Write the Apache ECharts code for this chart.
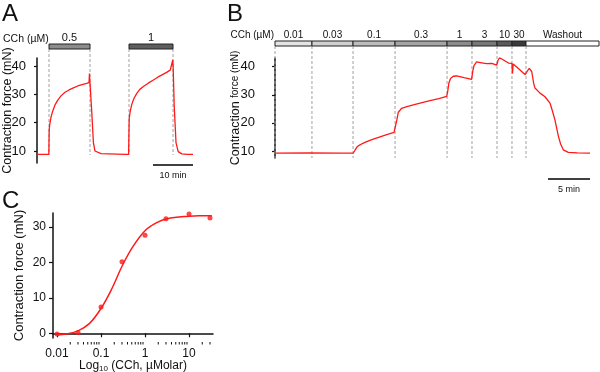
<!DOCTYPE html>
<html><head><meta charset="utf-8">
<script src="https://cdn.jsdelivr.net/npm/echarts@6/dist/echarts.min.js"></script>
<style>html,body{margin:0;padding:0;background:#fff}#c{width:600px;height:372px}</style>
</head><body><div id="c"></div>
<script>
// ---------- Panel A data (time in min, force in mN) ----------
const aTime  = [0, 2.95, 3.0, 3.05, 3.2, 3.5, 3.9, 4.5, 5.2, 6.0, 7.0, 8.0, 9.1, 10.2, 11.3, 12.4, 13.0, 13.12, 13.2, 13.3, 13.7, 14.1, 14.5, 15.0, 16.0, 18.0, 20.0, 22.0, 22.9, 22.97, 23.05, 23.3, 23.7, 24.2, 24.9, 25.7, 26.6, 27.8, 29.1, 30.3, 31.6, 32.5, 33.3, 33.8, 33.95, 34.05, 34.3, 34.75, 35.3, 36.2, 37.5, 39];
const aForce = [8.8, 8.8, 13, 17.5, 19.5, 22, 24, 26.3, 28, 29.5, 30.8, 31.6, 32.3, 33, 33.5, 33.9, 34.2, 37.4, 35, 33, 23.5, 13, 10, 9.4, 9.1, 9.0, 8.9, 8.8, 8.8, 15, 21.5, 24, 26.5, 28.5, 30.3, 31.8, 32.8, 34, 35.1, 36.2, 37.2, 37.9, 38.6, 39.2, 42.2, 39, 26, 13, 9.8, 9.0, 8.8, 8.8];
const aDoseLabel = ['0.5', '1'];
const aDoseStart = [3, 23];
const aDoseEnd   = [13.25, 34];
const aYTicks = [10, 20, 30, 40];
const aScaleStart = 29, aScaleLen = 10, aScaleLabel = '10 min';

// ---------- Panel B data ----------
const bTime  = [0, 4, 8, 9.3, 9.45, 9.73, 10.0, 10.32, 10.92, 11.7, 12.5, 13.3, 14.17, 14.3, 14.5, 14.68, 15.08, 15.7, 16.46, 17.5, 18.45, 19.5, 20.44, 20.55, 20.7, 20.9, 21.23, 21.63, 22.5, 23.4, 23.55, 23.7, 24.0, 24.6, 25.2, 25.8, 26.4, 26.55, 26.75, 27.2, 27.8, 28.2, 28.27, 28.35, 28.8, 29.17, 29.76, 30.05, 30.27, 30.56, 30.8, 30.95, 31.55, 32.14, 32.74, 33.0, 33.33, 33.73, 34.0, 34.32, 34.92, 36, 37.5];
const bForce = [9.2, 9.3, 9.2, 9.2, 9.6, 11.3, 12.0, 12.5, 13.3, 14.2, 15.0, 15.8, 16.6, 17.0, 21, 23.8, 25.2, 25.8, 26.4, 27.2, 27.9, 28.6, 29.4, 31, 34.2, 35.8, 36.6, 36.7, 36.1, 35.5, 38.5, 40.5, 41.7, 41.4, 41.1, 41.2, 40.6, 42.3, 43.2, 42.4, 41.3, 41.2, 37.6, 41.0, 39.8, 38.8, 37.2, 38.5, 39.4, 38.3, 34, 32.4, 30.6, 29.3, 27.0, 24.5, 21.0, 15.3, 12.5, 10.4, 9.5, 9.3, 9.2];
const bDoseLabel = ['0.01', '0.03', '0.1', '0.3', '1', '3', '10', '30', 'Washout'];
const bDoseStart = [0, 4.4, 9.29, 14.29, 20.48, 23.45, 26.43, 28.21, 29.88];
const bDoseEnd   = [4.4, 9.29, 14.29, 20.48, 23.45, 26.43, 28.21, 29.88, 38.57];
const bYTicks = [10, 20, 30, 40];
const bScaleStart = 32.5, bScaleLen = 5, bScaleLabel = '5 min';

// ---------- Panel C data ----------
const cConc  = [0.01, 0.03, 0.1, 0.3, 1, 3, 10, 30];
const cForce = [-0.2, 0.2, 7.4, 20.2, 27.7, 32.4, 33.7, 32.6];
const cFitConc  = [0.01, 0.0163, 0.03, 0.055, 0.1, 0.17, 0.31, 0.53, 1.0, 1.8, 3.2, 10, 17, 33];
const cFitForce = [-0.5, -0.2, 0.7, 2.8, 7.0, 12.2, 19.3, 24.5, 29.0, 31.2, 32.4, 33.1, 33.2, 33.2];
const cXLabels = [0.01, 0.1, 1, 10];
const cXMinor = [0.02,0.03,0.04,0.05,0.06,0.07,0.08,0.09,0.2,0.3,0.4,0.5,0.6,0.7,0.8,0.9,2,3,4,5,6,7,8,9,20,30];
const cYTicks = [0, 10, 20, 30];
const cYMin = -1.33, cYMax = 34;

// ---------- styles ----------
const FONT = 'Liberation Sans, Arial, sans-serif';
const INK = '#111';
const RED = '#ff1a1a';
const aDoseFill = ['#8c8c8c', '#5e5e5e'];
const bDoseFill = ['#e4e4e4', '#d0d0d0', '#bcbcbc', '#a4a4a4', '#8c8c8c', '#777777', '#5a5a5a', '#3a3a3a', '#ffffff'];
const C_AXIS_OFFSET = 4;

function zip(a, b) { return a.map((v, i) => [v, b[i]]); }

function stripSeries(xi, yi, starts, ends, labels, fills, dashBoth, dashLen, fontSize) {
  return {
    type: 'custom', xAxisIndex: xi, yAxisIndex: yi, silent: true, clip: false,
    data: starts.map((s, i) => [s, ends[i], i]),
    renderItem(params, api) {
      const i = api.value(2);
      const p0 = api.coord([api.value(0), 1]);
      const p1 = api.coord([api.value(1), 0]);
      const ch = [];
      const xs = dashBoth ? [p0[0], p1[0]] : [p0[0]];
      xs.forEach(x => ch.push({type: 'line', shape: {x1: x, y1: p1[1], x2: x, y2: p1[1] + dashLen},
        style: {stroke: '#a0a0a0', lineWidth: 1, lineDash: [3, 2]}}));
      ch.push({type: 'rect', shape: {x: p0[0], y: p0[1], width: p1[0] - p0[0], height: p1[1] - p0[1]},
        style: {fill: fills[i], stroke: '#222', lineWidth: 1}});
      ch.push({type: 'text', x: (p0[0] + p1[0]) / 2, y: p0[1] - 1,
        style: {text: labels[i], align: 'center', verticalAlign: 'bottom', fontSize: fontSize, fontFamily: FONT, fill: INK}});
      return {type: 'group', children: ch};
    }
  };
}

function scaleSeries(xi, yi, start, len, label) {
  return {
    type: 'custom', xAxisIndex: xi, yAxisIndex: yi, silent: true, clip: false,
    data: [[start, start + len]],
    renderItem(params, api) {
      const a = api.coord([api.value(0), 0]);
      const b = api.coord([api.value(1), 0]);
      return {type: 'group', children: [
        {type: 'line', shape: {x1: a[0], y1: a[1], x2: b[0], y2: b[1]}, style: {stroke: '#000', lineWidth: 1.5}},
        {type: 'text', x: (a[0] + b[0]) / 2, y: a[1] + 6,
          style: {text: label, align: 'center', verticalAlign: 'top', fontSize: 9, fontFamily: FONT, fill: INK}}
      ]};
    }
  };
}

function hiddenX(grid, min, max) { return {type: 'value', gridIndex: grid, min, max, show: false}; }
function hiddenY(grid) { return {type: 'value', gridIndex: grid, min: 0, max: 1, show: false}; }

function forceYAxis(grid, min, max, ticks, offset, name, nameGap, nameStyle) {
  return {
    type: 'value', gridIndex: grid, min, max, offset, position: 'left',
    axisLine: {show: true, lineStyle: {color: INK, width: 1.5}},
    axisTick: {show: true, length: 3, customValues: ticks, lineStyle: {color: INK, width: 1.2}},
    axisLabel: {show: true, customValues: ticks, fontSize: 13, color: INK, fontFamily: FONT, margin: 7},
    splitLine: {show: false},
    name, nameLocation: 'middle', nameGap, nameMoveOverlap: false, nameTextStyle: nameStyle
  };
}

function g(left, top, width, height) {
  return {left, top, width, height, containLabel: false, outerBoundsMode: 'none'};
}

const option = {
  animation: false,
  backgroundColor: '#fff',
  textStyle: {fontFamily: FONT},
  grid: [
    g(37, 58, 156, 105),   // 0 A trace
    g(37, 44, 156, 5),     // 1 A strip
    g(37, 164, 156, 1),    // 2 A scale bar
    g(275, 58, 324, 100),  // 3 B trace
    g(275, 41, 324, 5),    // 4 B strip
    g(275, 178, 324, 1),   // 5 B scale bar
    g(53, 213, 160, 125)   // 6 C
  ],
  xAxis: [
    hiddenX(0, 0, 39), hiddenX(1, 0, 39), hiddenX(2, 0, 39),
    hiddenX(3, 0, 38.57), hiddenX(4, 0, 38.57), hiddenX(5, 0, 38.57),
    {
      type: 'log', gridIndex: 6, logBase: 10, min: 0.00811, max: 35.1, position: 'bottom', offset: C_AXIS_OFFSET,
      axisLine: {show: true, lineStyle: {color: INK, width: 1.5}},
      axisTick: {show: true, length: 4, customValues: cXLabels, lineStyle: {color: INK, width: 1.2}},
      axisLabel: {show: true, customValues: cXLabels, fontSize: 12, color: INK, fontFamily: FONT, margin: 6,
        formatter: v => String(v)},
      splitLine: {show: false}, minorTick: {show: false},
      name: '{a|Log}{s|10}{a| (CCh, µMolar)}', nameLocation: 'middle', nameGap: 17, nameMoveOverlap: false,
      nameTextStyle: {fontSize: 12, color: INK, fontFamily: FONT,
        rich: {a: {fontSize: 12, color: INK, fontFamily: FONT, lineHeight: 14},
               s: {fontSize: 8, color: INK, fontFamily: FONT, lineHeight: 8, verticalAlign: 'bottom', padding: [5, 0, 0, 0]}}}
    }
  ],
  yAxis: [
    forceYAxis(0, 5.76, 42.9, aYTicks, 4, 'Contraction force (mN)', 19, {fontSize: 12.5, color: INK, fontFamily: FONT}),
    hiddenY(1), hiddenY(2),
    forceYAxis(3, 7.5, 43.1, bYTicks, 13, '{a|Contraction} {b|force (mN)}', 20,
      {color: INK, fontFamily: FONT, rich: {a: {fontSize: 12.5, color: INK, fontFamily: FONT}, b: {fontSize: 10, color: INK, fontFamily: FONT}}}),
    hiddenY(4), hiddenY(5),
    {
      type: 'value', gridIndex: 6, min: cYMin, max: cYMax, position: 'left',
      axisLine: {show: true, lineStyle: {color: INK, width: 1.5}},
      axisTick: {show: true, length: 4, customValues: cYTicks, lineStyle: {color: INK, width: 1.2}},
      axisLabel: {show: true, customValues: cYTicks, fontSize: 12, color: INK, fontFamily: FONT, margin: 7},
      splitLine: {show: false},
      name: 'Contraction force (mN)', nameLocation: 'middle', nameGap: 27, nameMoveOverlap: false,
      nameTextStyle: {fontSize: 13, color: INK, fontFamily: FONT}
    }
  ],
  series: [
    stripSeries(1, 1, aDoseStart, aDoseEnd, aDoseLabel, aDoseFill, true, 106, 11),
    stripSeries(4, 4, bDoseStart, bDoseEnd, bDoseLabel, bDoseFill, false, 112, 10),
    {type: 'line', xAxisIndex: 0, yAxisIndex: 0, data: zip(aTime, aForce), showSymbol: false, symbol: 'none',
      lineStyle: {color: RED, width: 1.3}, silent: true},
    {type: 'line', xAxisIndex: 3, yAxisIndex: 3, data: zip(bTime, bForce), showSymbol: false, symbol: 'none',
      lineStyle: {color: RED, width: 1.3}, silent: true},
    scaleSeries(2, 2, aScaleStart, aScaleLen, aScaleLabel),
    scaleSeries(5, 5, bScaleStart, bScaleLen, bScaleLabel),
    // minor log ticks of panel C x axis
    {type: 'custom', xAxisIndex: 6, yAxisIndex: 6, silent: true, clip: false,
      data: cXMinor.map(v => [v]),
      renderItem(params, api) {
        const p = api.coord([api.value(0), cYMin]);
        const y0 = p[1] + C_AXIS_OFFSET;
        return {type: 'line', shape: {x1: p[0], y1: y0, x2: p[0], y2: y0 + 2.5}, style: {stroke: INK, lineWidth: 1}};
      }},
    {type: 'line', xAxisIndex: 6, yAxisIndex: 6, data: zip(cFitConc, cFitForce), smooth: 0.35, showSymbol: false, symbol: 'none',
      lineStyle: {color: RED, width: 1.5}, silent: true},
    {type: 'scatter', xAxisIndex: 6, yAxisIndex: 6, data: zip(cConc, cForce), symbol: 'circle', symbolSize: 5,
      itemStyle: {color: RED}, silent: true}
  ],
  graphic: [
    {type: 'text', x: 2, y: 2, style: {text: 'A', fontSize: 24, fontFamily: FONT, fill: INK}},
    {type: 'text', x: 227, y: 2, style: {text: 'B', fontSize: 24, fontFamily: FONT, fill: INK}},
    {type: 'text', x: 2, y: 189, style: {text: 'C', fontSize: 24, fontFamily: FONT, fill: INK}},
    {type: 'text', x: 3, y: 39, style: {text: 'CCh (µM)', fontSize: 10.5, fontFamily: FONT, fill: INK, verticalAlign: 'middle'}},
    {type: 'text', x: 274, y: 35, style: {text: 'CCh (µM)', fontSize: 10, fontFamily: FONT, fill: INK, align: 'right', verticalAlign: 'middle'}}
  ]
};

const chart = echarts.init(document.getElementById('c'), null, {renderer: 'canvas'});
chart.setOption(option);
</script>
</body></html>
